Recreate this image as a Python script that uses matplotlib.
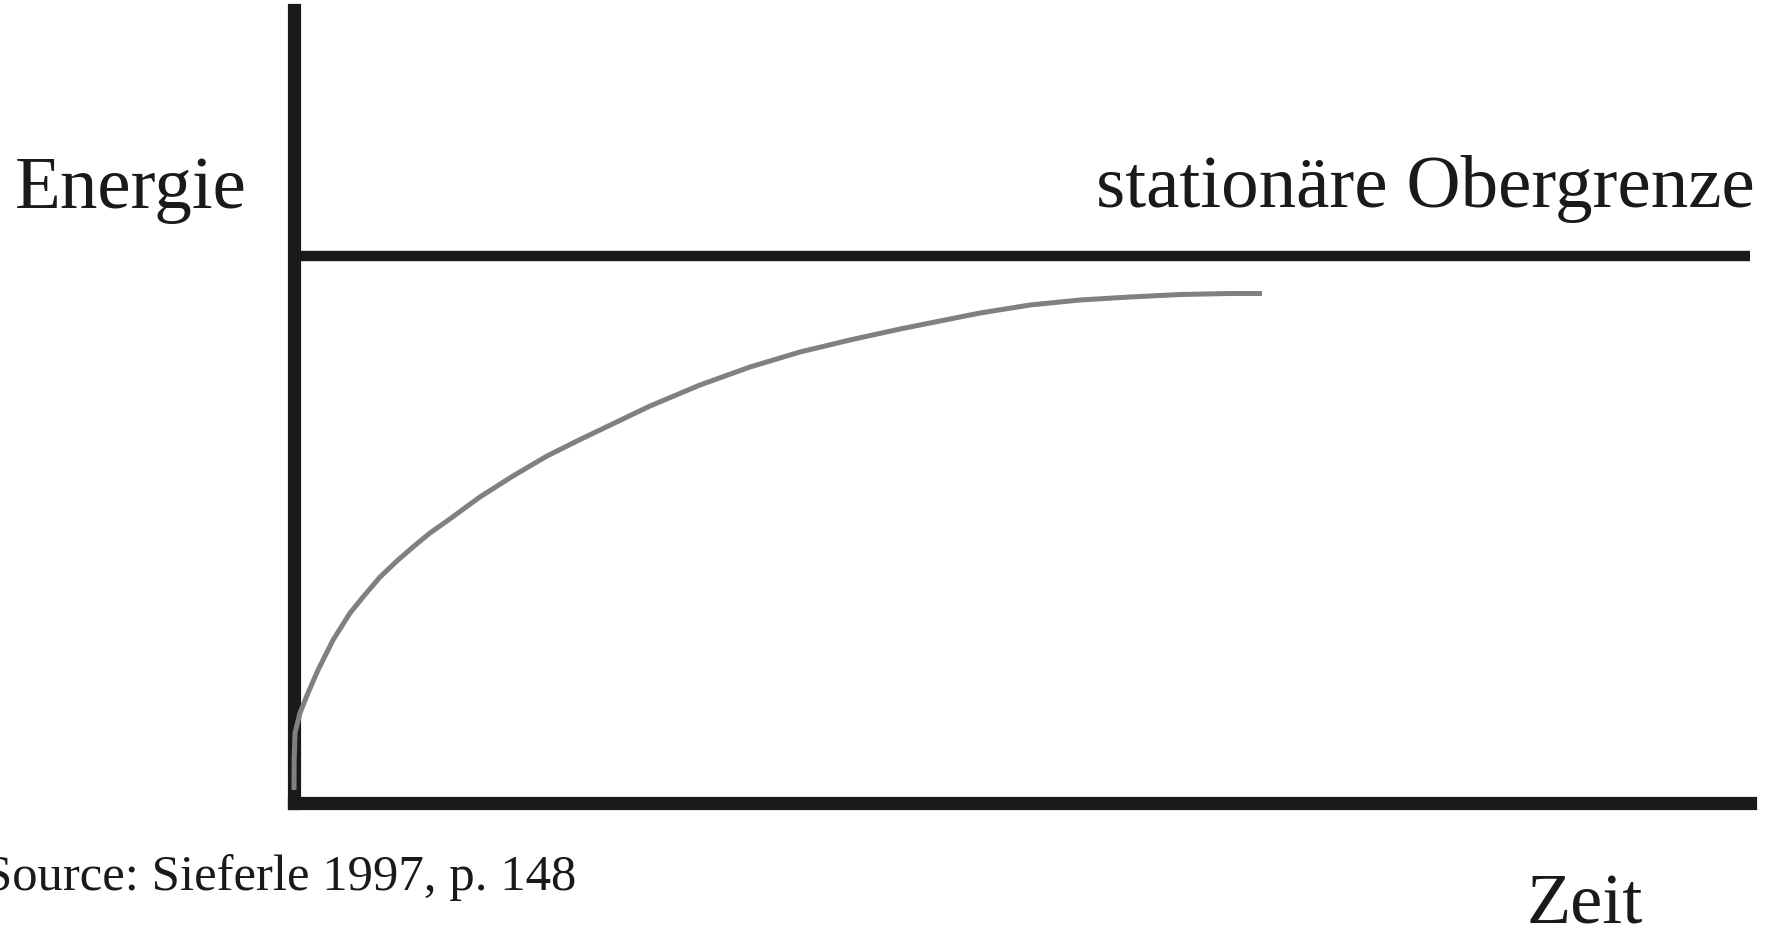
#!/usr/bin/env python3
"""
Schematic: energy use over time approaching a stationary upper bound
(after Sieferle 1997, p. 148)
"""

import matplotlib
matplotlib.use('Agg')
import matplotlib.pyplot as plt

# Curve (time, energy), both on a 0-100 scale
zeit = [0, 0.01, 0.07, 0.41, 0.96, 1.65, 2.68, 3.85, 4.74, 5.91, 7.07, 8.17,
        9.34, 10.51, 12.77, 15.04, 17.38, 19.44, 21.02, 24.45, 27.88, 31.32,
        34.75, 38.19, 41.62, 43.68, 47.12, 50.55, 53.98, 57.42, 60.85, 64.29,
        66.48]
energie = [1.64, 5.42, 8.83, 11.35, 13.87, 16.77, 20.55, 23.96, 25.98, 28.50,
           30.52, 32.28, 34.05, 35.56, 38.59, 41.24, 43.76, 45.65, 47.04, 50.06,
           52.71, 54.98, 56.87, 58.39, 59.77, 60.53, 61.79, 62.80, 63.43, 63.81,
           64.12, 64.25, 64.25]

# Stationary upper bound
obergrenze_x = [0, 100]
obergrenze_y = [69, 69]

W, H = 1775, 930
plt.rcParams['font.family'] = ['Liberation Serif', 'DejaVu Serif']

fig = plt.figure(figsize=(W / 100, H / 100), dpi=100)
ax = fig.add_axes([294 / W, (H - 803) / H, (1750 - 294) / W, (803 - 10) / H])
ax.set_xlim(0, 100)
ax.set_ylim(0, 100)

# Axes as thick black lines, nothing else
for side in ['top', 'right']:
    ax.spines[side].set_visible(False)
for side in ['left', 'bottom']:
    ax.spines[side].set_linewidth(9.5)
    ax.spines[side].set_color('#1a1a1a')
    ax.spines[side].set_capstyle('projecting')
ax.set_xticks([])
ax.set_yticks([])

ax.plot(obergrenze_x, obergrenze_y, color='#1a1a1a', linewidth=7.5,
        solid_capstyle='butt', clip_on=False)
# grey curve sits on top of the black axis near the origin
ax.plot(zeit, energie, color='#808080', linewidth=3.6, zorder=3,
        solid_capstyle='butt', solid_joinstyle='round', clip_on=False)

# Labels
fig.text(15 / W, (H - 208) / H, 'Energie', fontsize=54, color='#1a1a1a',
         ha='left', va='baseline')
fig.text(1755 / W, (H - 207) / H, 'stationäre Obergrenze', fontsize=54,
         color='#1a1a1a', ha='right', va='baseline')
fig.text(1527 / W, (H - 923) / H, 'Zeit', fontsize=52, color='#1a1a1a',
         ha='left', va='baseline')
fig.text(576 / W, (H - 890) / H, 'Source: Sieferle 1997, p. 148', fontsize=36.5,
         color='#1a1a1a', ha='right', va='baseline')

fig.savefig('out.png', dpi=100)
